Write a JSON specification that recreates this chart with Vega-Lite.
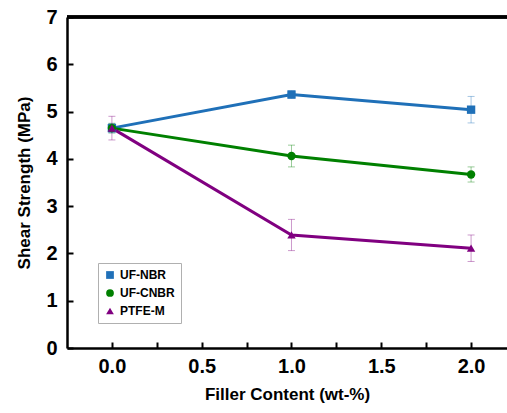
{
  "$schema": "https://vega.github.io/schema/vega-lite/v6.json",
  "autosize": "none",
  "width": 440,
  "height": 331,
  "padding": {"left": 67, "top": 17, "right": 0, "bottom": 65},
  "background": "white",
  "config": {
    "font": "Liberation Sans",
    "view": {"stroke": null},
    "axis": {
      "domainColor": "black",
      "domainWidth": 2.5,
      "tickColor": "black",
      "tickWidth": 2,
      "grid": false,
      "labelFont": "Liberation Sans",
      "labelFontWeight": "bold",
      "labelFontSize": 20,
      "labelColor": "black",
      "titleFont": "Liberation Sans",
      "titleFontWeight": "bold",
      "titleFontSize": 17,
      "titleColor": "black"
    },
    "legend": {
      "orient": "none",
      "legendX": 31,
      "legendY": 246,
      "strokeColor": "#b0b0b0",
      "fillColor": "white",
      "padding": 6,
      "labelFont": "Liberation Sans",
      "labelFontWeight": "bold",
      "labelFontSize": 12,
      "labelColor": "black",
      "rowPadding": 6,
      "symbolSize": 60,
      "symbolOpacity": 1,
      "symbolStrokeWidth": 0
    }
  },
  "data": {
    "values": [
      {"series": "UF-NBR", "x": 0, "y": 4.65, "lo": 4.55, "hi": 4.75},
      {"series": "UF-NBR", "x": 1, "y": 5.36, "lo": 5.28, "hi": 5.44},
      {"series": "UF-NBR", "x": 2, "y": 5.04, "lo": 4.76, "hi": 5.32},
      {"series": "UF-CNBR", "x": 0, "y": 4.65, "lo": 4.55, "hi": 4.75},
      {"series": "UF-CNBR", "x": 1, "y": 4.06, "lo": 3.83, "hi": 4.29},
      {"series": "UF-CNBR", "x": 2, "y": 3.67, "lo": 3.51, "hi": 3.83},
      {"series": "PTFE-M", "x": 0, "y": 4.65, "lo": 4.4, "hi": 4.9},
      {"series": "PTFE-M", "x": 1, "y": 2.39, "lo": 2.06, "hi": 2.72},
      {"series": "PTFE-M", "x": 2, "y": 2.11, "lo": 1.83, "hi": 2.39}
    ]
  },
  "encoding": {
    "color": {
      "field": "series", "type": "nominal",
      "scale": {"domain": ["UF-NBR", "UF-CNBR", "PTFE-M"], "range": ["#1f70b8", "#008000", "#800080"]},
      "legend": {"title": null}
    }
  },
  "layer": [
    {
      "mark": {"type": "rule", "strokeWidth": 2.5, "color": "black"},
      "encoding": {"color": {"value": "black"}, "y": {"datum": 7, "type": "quantitative", "title": "Shear Strength (MPa)", "scale": {"domain": [0, 7], "nice": false}}}
    },
    {
      "mark": {"type": "errorbar", "ticks": {"size": 7, "opacity": 0.4}, "rule": {"opacity": 0.4}, "thickness": 1},
      "encoding": {
        "x": {"field": "x", "type": "quantitative", "title": "Filler Content (wt-%)"},
        "y": {"field": "lo", "type": "quantitative", "title": "Shear Strength (MPa)"},
        "y2": {"field": "hi"}
      }
    },
    {
      "mark": {"type": "line", "strokeWidth": 3},
      "encoding": {
        "x": {"field": "x", "type": "quantitative", "title": "Filler Content (wt-%)"},
        "y": {"field": "y", "type": "quantitative", "title": "Shear Strength (MPa)"}
      }
    },
    {
      "mark": {"type": "point", "filled": true, "opacity": 1, "size": 70},
      "encoding": {
        "x": {
          "field": "x", "type": "quantitative",
          "title": "Filler Content (wt-%)",
          "scale": {"domain": [-0.25, 2.2], "nice": false, "zero": false},
          "axis": {
            "values": [0, 0.25, 0.5, 0.75, 1, 1.25, 1.5, 1.75, 2],
            "labelExpr": "datum.value % 0.5 === 0 ? format(datum.value, '.1f') : ''",
            "tickSize": -6,
            "labelPadding": 14,
            "titlePadding": 10
          }
        },
        "y": {
          "field": "y", "type": "quantitative",
          "title": "Shear Strength (MPa)",
          "scale": {"domain": [0, 7], "nice": false},
          "axis": {
            "values": [0, 0.5, 1, 1.5, 2, 2.5, 3, 3.5, 4, 4.5, 5, 5.5, 6, 6.5, 7],
            "labelExpr": "datum.value % 1 === 0 ? format(datum.value, 'd') : ''",
            "tickSize": -6,
            "labelPadding": 16,
            "titlePadding": 12
          }
        },
        "shape": {
          "field": "series", "type": "nominal",
          "scale": {"domain": ["UF-NBR", "UF-CNBR", "PTFE-M"], "range": ["square", "circle", "triangle-up"]},
          "legend": {"title": null}
        }
      }
    }
  ]
}
